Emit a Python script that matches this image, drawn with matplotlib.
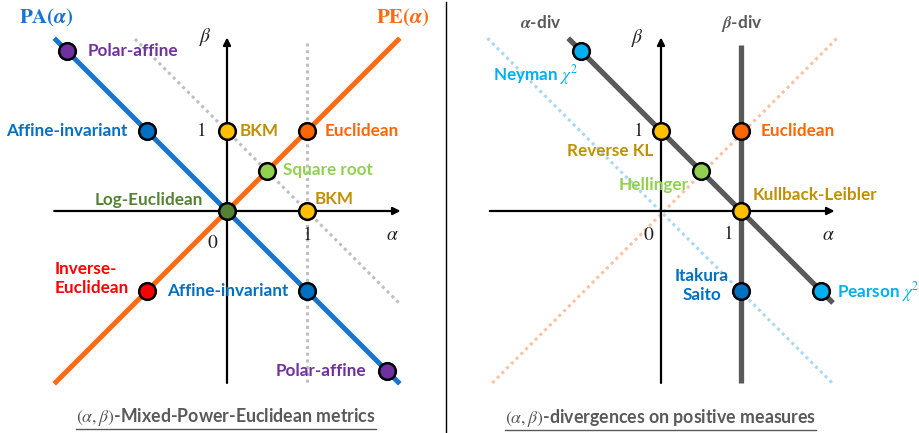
import matplotlib
matplotlib.use("Agg")
import matplotlib.pyplot as plt
from matplotlib.lines import Line2D

plt.rcParams['mathtext.fontset'] = 'stix'

# ---------------- data ----------------
# Left panel: (alpha, beta)-Mixed-Power-Euclidean metrics
pa_alpha = [-2.16, 2.16]          # PA(alpha) line: beta = -alpha
pa_beta = [2.16, -2.16]
pe_alpha = [-2.16, 2.16]          # PE(alpha) line: beta = alpha
pe_beta = [-2.16, 2.16]
dot_v_alpha = [1.0, 1.0]          # dotted vertical alpha = 1
dot_v_beta = [2.1, -2.15]
dot_d_alpha = [-1.15, 2.15]       # dotted diagonal alpha + beta = 1
dot_d_beta = [2.15, -1.15]

left_names = ["Polar-affine", "Affine-invariant", "BKM", "Euclidean", "Square root",
              "Log-Euclidean", "BKM", "Inverse-\nEuclidean", "Affine-invariant", "Polar-affine"]
left_alpha = [-2, -1, 0, 1, 0.5, 0, 1, -1, 1, 2]
left_beta = [2, 1, 1, 1, 0.5, 0, 0, -1, -1, -2]
left_fill = ["#7030A0", "#0070C0", "#FFC000", "#FF6600", "#92D050",
             "#548235", "#FFC000", "#FF0000", "#0070C0", "#7030A0"]
left_text = ["#7030A0", "#0070C0", "#BF9000", "#FF6600", "#92D050",
             "#548235", "#BF9000", "#FF0000", "#0070C0", "#7030A0"]

# Right panel: (alpha, beta)-divergences on positive measures
adiv_alpha = [-1.16, 2.15]        # alpha-div line: alpha + beta = 1
adiv_beta = [2.16, -1.15]
bdiv_alpha = [1.0, 1.0]           # beta-div line: alpha = 1
bdiv_beta = [2.07, -2.15]
lb_alpha = [-2.17, 2.14]          # light blue dotted: beta = -alpha
lb_beta = [2.16, -2.15]
sal_alpha = [-2.11, 2.2]          # salmon dotted: beta = alpha
sal_beta = [-2.15, 2.16]

right_names = ["Neyman $\\chi^2$", "Reverse KL", "Hellinger", "Kullback-Leibler",
               "Pearson $\\chi^2$", "Euclidean", "Itakura\nSaito"]
right_alpha = [-1, 0, 0.5, 1, 2, 1, 1]
right_beta = [2, 1, 0.5, 0, -1, 1, -1]
right_fill = ["#00B0F0", "#FFC000", "#92D050", "#FFC000", "#00B0F0", "#FF6600", "#0070C0"]
right_text = ["#00B0F0", "#BF9000", "#92D050", "#BF9000", "#00B0F0", "#FF6600", "#0070C0"]

# ---------------- layout ----------------
W, H = 920, 433
SEP = 446
UNIT = 80.0
fig = plt.figure(figsize=(W / 100, H / 100), dpi=100)
axL = fig.add_axes([0, 0, SEP / W, 1])
axR = fig.add_axes([SEP / W, 0, (W - SEP) / W, 1])
ox_l, ox_r, oy = 227, 661, 211
axL.set_xlim(-ox_l / UNIT, (SEP - ox_l) / UNIT)
axR.set_xlim(-(ox_r - SEP) / UNIT, (W - ox_r) / UNIT)
for ax in (axL, axR):
    ax.set_ylim(-(H - oy) / UNIT, oy / UNIT)
    ax.axis('off')

fig.add_artist(Line2D([SEP / W, SEP / W], [0, 0.995], transform=fig.transFigure,
                      color='black', lw=1.0))

LBL = dict(family='Lato', weight='bold', fontsize=12.3)
MS = 12


def axes_arrows(ax, xr, yr):
    ap = dict(arrowstyle='-|>', lw=1.6, color='black', mutation_scale=11,
              shrinkA=0, shrinkB=0)
    ax.annotate('', xy=(xr[1], 0), xytext=(xr[0], 0), arrowprops=ap, zorder=3)
    ax.annotate('', xy=(0, yr[1]), xytext=(0, yr[0]), arrowprops=ap, zorder=3)


def math_label(ax, x, y, s, **kw):
    ax.text(x, y, s, fontsize=14, color='#222222', ha='center', va='center', **kw)


def caption(ax, x, y, s):
    t = ax.text(x, y, s, color='#595959', ha='center', va='center', **dict(LBL, fontsize=12.8))
    fig.canvas.draw()
    bb = t.get_window_extent()
    inv = ax.transData.inverted()
    (x0, y0), (x1, _) = inv.transform([(bb.x0, bb.y0 - 1), (bb.x1, bb.y0)])
    ax.plot([x0, x1], [y0, y0], color='#595959', lw=1.0)


# ---------------- left panel ----------------
axL.plot(dot_v_alpha, dot_v_beta, color='#BFBFBF', lw=2.2, ls=(0, (1, 1.2)), zorder=1)
axL.plot(dot_d_alpha, dot_d_beta, color='#BFBFBF', lw=2.2, ls=(0, (1, 1.2)), zorder=1)
axes_arrows(axL, (-2.16, 2.17), (-2.15, 2.17))
axL.plot(pa_alpha, pa_beta, color='#1874CD', lw=3.6, solid_capstyle='butt', zorder=4)
axL.plot(pe_alpha, pe_beta, color='#FF6A13', lw=3.6, solid_capstyle='butt', zorder=4)
for a, b, c in zip(left_alpha, left_beta, left_fill):
    axL.plot([a], [b], 'o', ms=MS, mfc=c, mec='black', mew=1.8, zorder=6)

left_pos = [(-1.74, 2.0, 'left'), (-1.25, 1.0, 'right'), (0.16, 1.0, 'left'),
            (1.22, 1.0, 'left'), (0.7, 0.51, 'left'), (-0.3, 0.14, 'right'),
            (1.1, 0.15, 'left'), (-2.15, -0.84, 'left'), (-0.75, -1.0, 'left'),
            (1.74, -2.0, 'right')]
for name, c, (x, y, ha) in zip(left_names, left_text, left_pos):
    axL.text(x, y, name, color=c, ha=ha, va='center', linespacing=1.25, zorder=7, **LBL)

axL.text(-2.26, 2.41, r'$\mathbf{PA(}\boldsymbol{\alpha}\mathbf{)}$', color='#1874CD',
         fontsize=15, ha='center', va='center')
axL.text(2.2, 2.41, r'$\mathbf{PE(}\boldsymbol{\alpha}\mathbf{)}$', color='#FF6A13',
         fontsize=15, ha='center', va='center')
math_label(axL, -0.175, -0.4, r'$0$')
math_label(axL, 1.0, -0.3, r'$1$')
math_label(axL, 2.07, -0.3, r'$\alpha$')
math_label(axL, -0.275, 2.17, r'$\beta$')
math_label(axL, -0.325, 1.0, r'$1$')
caption(axL, -0.01, -2.57, r'$(\alpha,\beta)$-Mixed-Power-Euclidean metrics')

# ---------------- right panel ----------------
axR.plot(lb_alpha, lb_beta, color='#A9D8F5', lw=2.2, ls=(0, (1, 1.2)), zorder=1)
axR.plot(sal_alpha, sal_beta, color='#F9C3A3', lw=2.2, ls=(0, (1, 1.2)), zorder=1)
axes_arrows(axR, (-2.14, 2.17), (-2.15, 2.17))
axR.plot(adiv_alpha, adiv_beta, color='#595959', lw=3.8, solid_capstyle='butt', zorder=4)
axR.plot(bdiv_alpha, bdiv_beta, color='#595959', lw=3.8, solid_capstyle='butt', zorder=4)
for a, b, c in zip(right_alpha, right_beta, right_fill):
    axR.plot([a], [b], 'o', ms=MS, mfc=c, mec='black', mew=1.8, zorder=6)

right_pos = [(-2.1, 1.7, 'left'), (-0.1, 0.75, 'right'), (0.34, 0.33, 'right'),
             (1.15, 0.2, 'left'), (2.2, -1.01, 'left'), (1.24, 1.0, 'left'),
             (0.51, -0.93, 'center')]
for name, c, (x, y, ha) in zip(right_names, right_text, right_pos):
    axR.text(x, y, name, color=c, ha=ha, va='center', linespacing=1.25, zorder=7, **LBL)

axR.text(-1.5, 2.35, r'$\boldsymbol{\alpha}$-div', color='#595959', ha='center',
         va='center', **LBL)
axR.text(1.01, 2.35, r'$\boldsymbol{\beta}$-div', color='#595959', ha='center',
         va='center', **LBL)
math_label(axR, -0.15, -0.3, r'$0$')
math_label(axR, 0.84, -0.28, r'$1$')
math_label(axR, 2.09, -0.3, r'$\alpha$')
math_label(axR, -0.29, 2.16, r'$\beta$')
math_label(axR, -0.29, 1.0, r'$1$')
caption(axR, -0.01, -2.59, r'$(\alpha,\beta)$-divergences on positive measures')

fig.savefig('out.png', dpi=100)
